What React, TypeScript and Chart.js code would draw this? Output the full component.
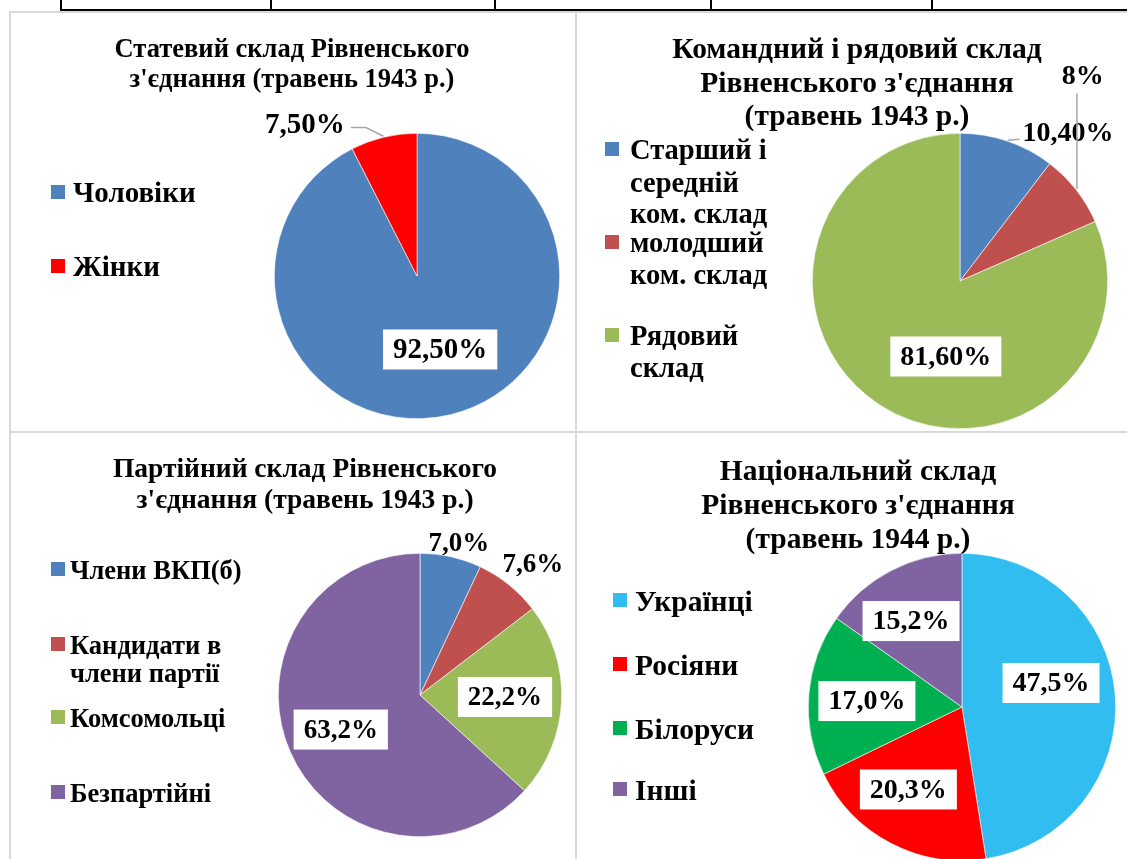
import React, { useEffect, useRef } from "react";
import { Chart, registerables } from "chart.js";

Chart.register(...registerables);

// ---------- data ----------
const sexLabels = [["Чоловіки"], ["Жінки"]];
const sexValues = [92.5, 7.5];
const sexValueText = ["92,50%", "7,50%"];

const rankLabels = [["Старший і", "середній", "ком. склад"], ["молодший", "ком. склад"], ["Рядовий", "склад"]];
const rankValues = [10.4, 8.0, 81.6];
const rankValueText = ["10,40%", "8%", "81,60%"];

const partyLabels = [["Члени ВКП(б)"], ["Кандидати в", "члени партії"], ["Комсомольці"], ["Безпартійні"]];
const partyValues = [7.0, 7.6, 22.2, 63.2];
const partyValueText = ["7,0%", "7,6%", "22,2%", "63,2%"];

const nationLabels = [["Українці"], ["Росіяни"], ["Білоруси"], ["Інші"]];
const nationValues = [47.5, 20.3, 17.0, 15.2];
const nationValueText = ["47,5%", "20,3%", "17,0%", "15,2%"];

// ---------- layout / style ----------
const W = 1127;
const H = 859;
const CW = 1127;
const CH = 880;
const FONT = '"Liberation Serif", "Times New Roman", serif';

type LabelStyle = { f: number; da: number; boxed: boolean; leader?: "left" | "right" | "bottom" };
type Spec = {
  labels: string[][];
  values: number[];
  texts: string[];
  colors: string[];
  cx: number;
  cy: number;
  r: number;
  title: string[];
  titleX: number;
  titleY: number[];
  titleSize: number;
  legendX: number;
  legendTextX: number;
  legendYs: number[][];
  legendSize: number;
  labelSize: number;
  labelStyles: LabelStyle[];
};

const specs: Spec[] = [
  {
    labels: sexLabels,
    values: sexValues,
    texts: sexValueText,
    colors: ["#4f81bd", "#ff0000"],
    cx: 417, cy: 276, r: 143,
    title: ["Статевий склад Рівненського", "з'єднання (травень 1943 р.)"],
    titleX: 292, titleY: [50, 80], titleSize: 26.5,
    legendX: 51, legendTextX: 73, legendYs: [[195], [269]], legendSize: 29,
    labelSize: 29,
    labelStyles: [
      { f: 0.54, da: -4, boxed: true },
      { f: 1.32, da: -23, boxed: false, leader: "right" },
    ],
  },
  {
    labels: rankLabels,
    values: rankValues,
    texts: rankValueText,
    colors: ["#4f81bd", "#c0504d", "#9bbb59"],
    cx: 960, cy: 281, r: 148,
    title: ["Командний і рядовий склад", "Рівненського з'єднання", "(травень 1943 р.)"],
    titleX: 857, titleY: [50, 84, 117], titleSize: 29.5,
    legendX: 605, legendTextX: 630, legendYs: [[152, 185, 216], [245, 277], [338, 370]], legendSize: 28.5,
    labelSize: 28,
    labelStyles: [
      { f: 1.24, da: 17.4, boxed: false, leader: "left" },
      { f: 1.62, da: -21, boxed: false, leader: "bottom" },
      { f: 0.52, da: -22.5, boxed: true },
    ],
  },
  {
    labels: partyLabels,
    values: partyValues,
    texts: partyValueText,
    colors: ["#4f81bd", "#c0504d", "#9bbb59", "#8064a2"],
    cx: 420, cy: 695, r: 142,
    title: ["Партійний склад Рівненського", "з'єднання (травень 1943 р.)"],
    titleX: 305, titleY: [470, 501], titleSize: 27.5,
    legendX: 51, legendTextX: 70, legendYs: [[572], [647, 675], [720], [795]], legendSize: 26.5,
    labelSize: 27,
    labelStyles: [
      { f: 1.11, da: 1.7, boxed: false },
      { f: 1.22, da: 1.9, boxed: false },
      { f: 0.6, da: -1.2, boxed: true },
      { f: 0.61, da: 0.2, boxed: true },
    ],
  },
  {
    labels: nationLabels,
    values: nationValues,
    texts: nationValueText,
    colors: ["#31bdf0", "#ff0000", "#00b050", "#8064a2"],
    cx: 962, cy: 707, r: 154,
    title: ["Національний склад", "Рівненського з'єднання", "(травень 1944 р.)"],
    titleX: 858, titleY: [472, 506, 540], titleSize: 29.5,
    legendX: 613, legendTextX: 635, legendYs: [[603], [667], [731], [792]], legendSize: 29.5,
    labelSize: 28,
    labelStyles: [
      { f: 0.6, da: -10.6, boxed: true },
      { f: 0.64, da: 5.5, boxed: true },
      { f: 0.62, da: -1.1, boxed: true },
      { f: 0.65, da: -3.3, boxed: true },
    ],
  },
];

function makeOverlay(spec: Spec) {
  return {
    id: "overlay",
    afterDatasetsDraw(chart: any) {
      const ctx: CanvasRenderingContext2D = chart.ctx;
      ctx.save();
      // title
      ctx.fillStyle = "#000";
      ctx.textAlign = "center";
      ctx.textBaseline = "middle";
      ctx.font = `bold ${spec.titleSize}px ${FONT}`;
      spec.title.forEach((t, i) => ctx.fillText(t, spec.titleX, spec.titleY[i]));
      // legend
      ctx.textAlign = "left";
      ctx.font = `bold ${spec.legendSize}px ${FONT}`;
      spec.labels.forEach((lines, i) => {
        const ys = spec.legendYs[i];
        ctx.fillStyle = spec.colors[i];
        ctx.fillRect(spec.legendX, ys[0] - 10, 14, 14);
        ctx.fillStyle = "#000";
        lines.forEach((ln, j) => ctx.fillText(ln, spec.legendTextX, ys[j]));
      });
      // data labels
      const meta = chart.getDatasetMeta(0);
      ctx.font = `bold ${spec.labelSize}px ${FONT}`;
      ctx.textAlign = "center";
      meta.data.forEach((arc: any, i: number) => {
        const st = spec.labelStyles[i];
        const p = arc.getProps(["x", "y", "startAngle", "endAngle", "outerRadius"], true);
        const mid = (p.startAngle + p.endAngle) / 2;
        const a = mid + (st.da * Math.PI) / 180;
        const lx = p.x + Math.cos(a) * st.f * p.outerRadius;
        const ly = p.y + Math.sin(a) * st.f * p.outerRadius;
        const text = spec.texts[i];
        const w = ctx.measureText(text).width;
        const h = 40;
        if (st.boxed) {
          ctx.fillStyle = "#fff";
          ctx.fillRect(lx - w / 2 - 10, ly - h / 2, w + 20, h);
        }
        if (st.leader) {
          const ex = p.x + Math.cos(mid) * (p.outerRadius + 1);
          const ey = p.y + Math.sin(mid) * (p.outerRadius + 1);
          ctx.strokeStyle = "#a6a6a6";
          ctx.lineWidth = 1.5;
          ctx.beginPath();
          if (st.leader === "right") {
            const sx = lx + w / 2 + 6;
            ctx.moveTo(sx, ly + 3);
            ctx.lineTo(sx + 15, ly + 3);
            ctx.lineTo(ex, ey);
          } else if (st.leader === "left") {
            ctx.moveTo(lx - w / 2 - 3, ey - 1);
            ctx.lineTo(ex, ey);
          } else {
            ctx.moveTo(ex, ly + 18);
            ctx.lineTo(ex, ey);
          }
          ctx.stroke();
        }
        ctx.fillStyle = "#000";
        ctx.fillText(text, lx, ly + 1);
      });
      ctx.restore();
    },
  };
}

function PieCell({ spec }: { spec: Spec }) {
  const ref = useRef<HTMLCanvasElement>(null);
  useEffect(() => {
    const chart = new Chart(ref.current as HTMLCanvasElement, {
      type: "pie",
      data: {
        labels: spec.labels.map((l) => l.join(" ")),
        datasets: [
          {
            data: spec.values,
            backgroundColor: spec.colors,
            borderColor: "#ffffff",
            borderWidth: 0.6,
          },
        ],
      },
      options: {
        responsive: false,
        animation: false,
        devicePixelRatio: 1,
        events: [],
        layout: {
          padding: {
            left: spec.cx - spec.r,
            top: spec.cy - spec.r,
            right: CW - (spec.cx + spec.r),
            bottom: CH - (spec.cy + spec.r),
          },
        },
        plugins: {
          legend: { display: false },
          tooltip: { enabled: false },
          title: { display: false },
        },
      },
      plugins: [makeOverlay(spec)],
    } as any);
    return () => chart.destroy();
  }, [spec]);
  return (
    <canvas
      ref={ref}
      width={CW}
      height={CH}
      style={{ position: "absolute", left: 0, top: 0, width: CW, height: CH }}
    />
  );
}

const line = (s: React.CSSProperties) => <div style={{ position: "absolute", ...s }} />;

export default function App() {
  const grey = "#d9d9d9";
  return (
    <div
      style={{
        position: "absolute",
        left: 0,
        top: 0,
        width: W,
        height: H,
        overflow: "hidden",
        background: "#fff",
      }}
    >
      {/* top table fragment */}
      {line({ left: 60, top: 9, width: W - 60, height: 2, background: "#000" })}
      {[60, 270, 494, 710, 931].map((x) => (
        <div key={x} style={{ position: "absolute", left: x, top: 0, width: 2, height: 10, background: "#000" }} />
      ))}
      {/* grey cell borders */}
      {line({ left: 9, top: 11, width: W - 9, height: 2, background: grey })}
      {line({ left: 9, top: 11, width: 2, height: H - 11, background: grey })}
      {line({ left: 575, top: 11, width: 2, height: H - 11, background: grey })}
      {line({ left: 9, top: 431, width: W - 9, height: 2, background: grey })}
      {specs.map((s, i) => (
        <PieCell key={i} spec={s} />
      ))}
    </div>
  );
}
